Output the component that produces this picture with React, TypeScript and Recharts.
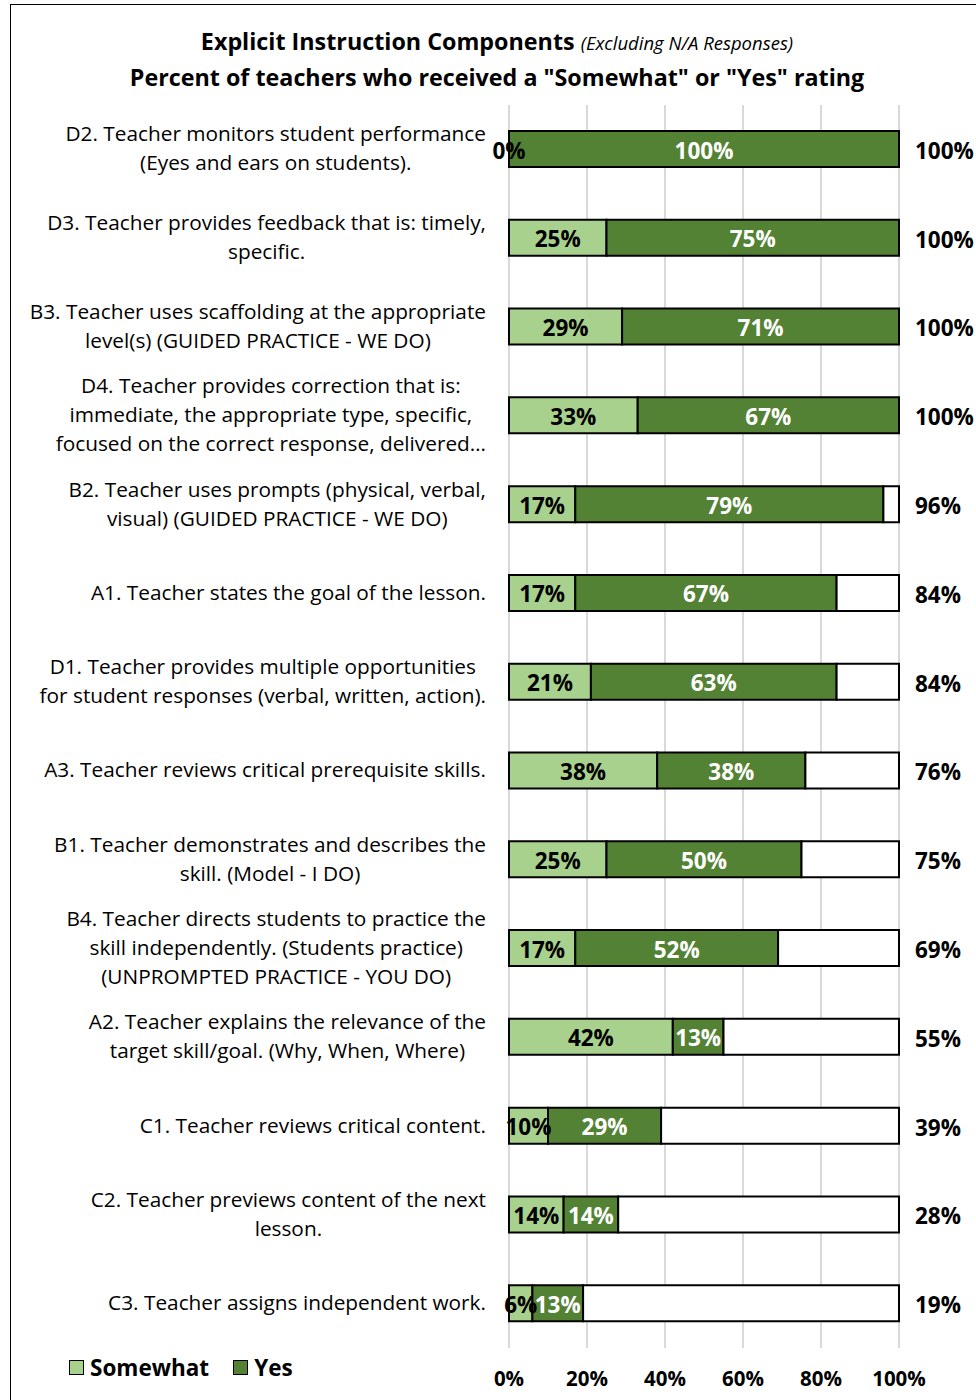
import React from 'react';
import { BarChart, Bar, XAxis, YAxis, CartesianGrid, LabelList } from 'recharts';

const categories: string[][] = [
  ['D2. Teacher monitors student performance', '(Eyes and ears on students).'],
  ['D3. Teacher provides feedback that is: timely,', 'specific.'],
  ['B3. Teacher uses scaffolding at the appropriate', 'level(s) (GUIDED PRACTICE - WE DO)'],
  ['D4. Teacher provides correction that is:', 'immediate, the appropriate type, specific,', 'focused on the correct response, delivered…'],
  ['B2. Teacher uses prompts (physical, verbal,', 'visual) (GUIDED PRACTICE - WE DO)'],
  ['A1. Teacher states the goal of the lesson.'],
  ['D1. Teacher provides multiple opportunities', 'for student responses (verbal, written, action).'],
  ['A3. Teacher reviews critical prerequisite skills.'],
  ['B1. Teacher demonstrates and describes the', 'skill. (Model - I DO)'],
  ['B4. Teacher directs students to practice the', 'skill independently. (Students practice)', '(UNPROMPTED PRACTICE - YOU DO)'],
  ['A2. Teacher explains the relevance of the', 'target skill/goal. (Why, When, Where)'],
  ['C1. Teacher reviews critical content.'],
  ['C2. Teacher previews content of the next', 'lesson.'],
  ['C3. Teacher assigns independent work.'],
];
const somewhat: number[] = [0, 25, 29, 33, 17, 17, 21, 38, 25, 17, 42, 10, 14, 6];
const yes: number[] = [100, 75, 71, 67, 79, 67, 63, 38, 50, 52, 13, 29, 14, 13];
const totals: number[] = [100, 100, 100, 100, 96, 84, 84, 76, 75, 69, 55, 39, 28, 19];
const xTicks: number[] = [0, 20, 40, 60, 80, 100];

const data = categories.map((lines, i) => ({
  id: String(i),
  somewhat: somewhat[i],
  yes: yes[i],
  rest: Math.max(0, 100 - totals[i]),
  total: totals[i],
}));

const FONT = '"Open Sans", sans-serif';
const LIGHT = '#A9D18E';
const DARK = '#548235';
const CAT_SIZE = 20.8;

let ctx: CanvasRenderingContext2D | null = null;
function measure(text: string, font: string): number {
  if (!ctx) {
    const c = document.createElement('canvas');
    ctx = c.getContext('2d');
  }
  if (!ctx) return text.length * 10;
  ctx.font = font;
  return ctx.measureText(text).width;
}

const CategoryTick = (props: any) => {
  const { x, y, payload } = props;
  const idx = Number(payload.value);
  const lines = categories[idx] || [];
  const font = `${CAT_SIZE}px "Open Sans"`;
  const maxW = Math.max(...lines.map((l) => measure(l, font)));
  const right = x - 15;
  const cx = right - maxW / 2;
  const lh = 29;
  const start = y - ((lines.length - 1) * lh) / 2 - 1.5;
  return (
    <text textAnchor="middle" fontFamily={FONT} fontSize={CAT_SIZE} fill="#000">
      {lines.map((l, k) => (
        <tspan key={k} x={cx} y={start + k * lh} dominantBaseline="central">
          {l}
        </tspan>
      ))}
    </text>
  );
};

const TotalTick = (props: any) => {
  const { x, y, payload } = props;
  const idx = Number(payload.value);
  return (
    <text x={x + 8} y={y + 1} textAnchor="start" dominantBaseline="central" fontFamily={FONT} fontWeight="bold" fontSize={22.5} fill="#000">
      {`${totals[idx]}%`}
    </text>
  );
};

const XTick = (props: any) => {
  const { x, y, payload } = props;
  return (
    <text x={x} y={y + 30} textAnchor="middle" fontFamily={FONT} fontWeight="bold" fontSize={20.5} fill="#000">
      {`${payload.value}%`}
    </text>
  );
};

const makeValueLabel = (color: string) => (props: any) => {
  const { x, y, width, height, value } = props;
  return (
    <text x={x + width / 2} y={y + height / 2 + 1} textAnchor="middle" dominantBaseline="central" fontFamily={FONT} fontWeight="bold" fontSize={22.5} fill={color}>
      {`${value}%`}
    </text>
  );
};

// draws a "0%" label for an empty "Somewhat" segment at the start of the "Yes" segment
const ZeroSomewhatLabel = (props: any) => {
  const { x, y, height, value } = props;
  if (value !== 0) return null;
  return (
    <text x={x} y={y + height / 2 + 1} textAnchor="middle" dominantBaseline="central" fontFamily={FONT} fontWeight="bold" fontSize={22.5} fill="#000">
      {`${value}%`}
    </text>
  );
};

export default function App() {
  return (
    <div style={{ position: 'absolute', left: 0, top: 0, width: 976, height: 1400, overflow: 'hidden', background: '#fff' }}>
      <div style={{ position: 'absolute', left: 10, top: 4, width: 1000, height: 1420, border: '1.5px solid #000', boxSizing: 'border-box' }} />
      <div style={{ position: 'absolute', left: 0, top: 24, width: 994, textAlign: 'center', fontFamily: FONT, fontWeight: 'bold', fontSize: 23.3, color: '#000', lineHeight: '35px' }}>
        <div>
          Explicit Instruction Components{' '}
          <span style={{ fontWeight: 'normal', fontStyle: 'italic', fontSize: 18.5 }}>(Excluding N/A Responses)</span>
        </div>
        <div>Percent of teachers who received a "Somewhat" or "Yes" rating</div>
      </div>
      <div style={{ position: 'absolute', left: 0, top: 0 }}>
        <BarChart
          width={976}
          height={1400}
          data={data}
          layout="vertical"
          margin={{ top: 105, right: 0, bottom: 12, left: 0 }}
          barCategoryGap={0}
        >
          <CartesianGrid horizontal={false} vertical={true} stroke="#d9d9d9" strokeWidth={2} />
          <XAxis
            type="number"
            domain={[0, 100]}
            ticks={xTicks}
            axisLine={false}
            tickLine={false}
            height={40}
            tick={<XTick />}
            interval={0}
          />
          <YAxis
            yAxisId="left"
            type="category"
            dataKey="id"
            width={509}
            axisLine={false}
            tickLine={false}
            tick={<CategoryTick />}
            interval={0}
          />
          <YAxis
            yAxisId="right"
            orientation="right"
            type="category"
            dataKey="id"
            width={77}
            axisLine={false}
            tickLine={false}
            tick={<TotalTick />}
            interval={0}
          />
          <Bar yAxisId="left" dataKey="somewhat" stackId="a" fill={LIGHT} stroke="#000" strokeWidth={2} barSize={36} isAnimationActive={false}>
            <LabelList dataKey="somewhat" content={makeValueLabel('#000')} />
          </Bar>
          <Bar yAxisId="left" dataKey="yes" stackId="a" fill={DARK} stroke="#000" strokeWidth={2} barSize={36} isAnimationActive={false}>
            <LabelList dataKey="yes" content={makeValueLabel('#fff')} />
            <LabelList dataKey="somewhat" content={ZeroSomewhatLabel} />
          </Bar>
          <Bar yAxisId="left" dataKey="rest" stackId="a" fill="#fff" stroke="#000" strokeWidth={2} barSize={36} isAnimationActive={false} />
        </BarChart>
      </div>
      <div style={{ position: 'absolute', left: 69, top: 1352, display: 'flex', alignItems: 'center', fontFamily: FONT, fontWeight: 'bold', fontSize: 22.5, color: '#000' }}>
        <span style={{ display: 'inline-block', width: 13, height: 13, background: LIGHT, border: '1.5px solid #000', marginRight: 6 }} />
        <span style={{ marginRight: 24 }}>Somewhat</span>
        <span style={{ display: 'inline-block', width: 13, height: 13, background: DARK, border: '1.5px solid #000', marginRight: 6 }} />
        <span>Yes</span>
      </div>
    </div>
  );
}
